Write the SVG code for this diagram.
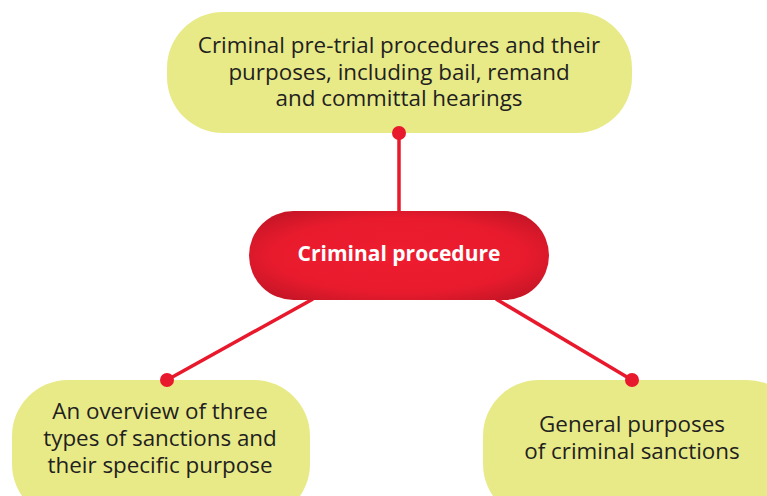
<svg xmlns="http://www.w3.org/2000/svg" width="767" height="496" viewBox="0 0 767 496">
<defs>
<radialGradient id="red" cx="0.5" cy="0.5" r="0.6">
<stop offset="0" stop-color="#ee1c2f"/>
<stop offset="0.7" stop-color="#e81b2d"/>
<stop offset="1" stop-color="#c81627"/>
</radialGradient>
<style>
.leaf{fill:#e8ea88}
.t{font-family:"Open Sans","Noto Sans",sans-serif;font-size:22.4px;fill:#231f20;text-anchor:middle}
.c{font-family:"Open Sans","Noto Sans",sans-serif;font-size:21px;font-weight:bold;fill:#ffffff;text-anchor:middle}
.ln{stroke:#e8192c;stroke-width:3.5;fill:none}
.dot{fill:#e8192c}
</style>
</defs>
<rect width="767" height="496" fill="#ffffff"/>
<g id="connectors">
<line class="ln" x1="399" y1="133" x2="399" y2="212"/>
<line class="ln" x1="313" y1="299" x2="167" y2="380"/>
<line class="ln" x1="496" y1="299" x2="632" y2="380"/>
</g>
<g id="top">
<rect class="leaf" x="167" y="12" width="465" height="121" rx="56"/>
<text class="t" x="399" y="53">Criminal pre-trial procedures and their</text>
<text class="t" x="399" y="80">purposes, including bail, remand</text>
<text class="t" x="399" y="106">and committal hearings</text>
</g>
<g id="center">
<rect x="249" y="211" width="300" height="89" rx="44.5" fill="url(#red)"/>
<text class="c" x="399" y="261">Criminal procedure</text>
</g>
<g id="left">
<rect class="leaf" x="12" y="380" width="298" height="140" rx="56"/>
<text class="t" x="160" y="419">An overview of three</text>
<text class="t" x="160" y="446">types of sanctions and</text>
<text class="t" x="160" y="473">their specific purpose</text>
</g>
<g id="right">
<rect class="leaf" x="483" y="380" width="320" height="140" rx="56"/>
<text class="t" x="632" y="432">General purposes</text>
<text class="t" x="632" y="459">of criminal sanctions</text>
</g>
<g id="dots">
<circle class="dot" cx="399" cy="133" r="7"/>
<circle class="dot" cx="167" cy="380" r="7"/>
<circle class="dot" cx="632" cy="380" r="7"/>
</g>
</svg>
